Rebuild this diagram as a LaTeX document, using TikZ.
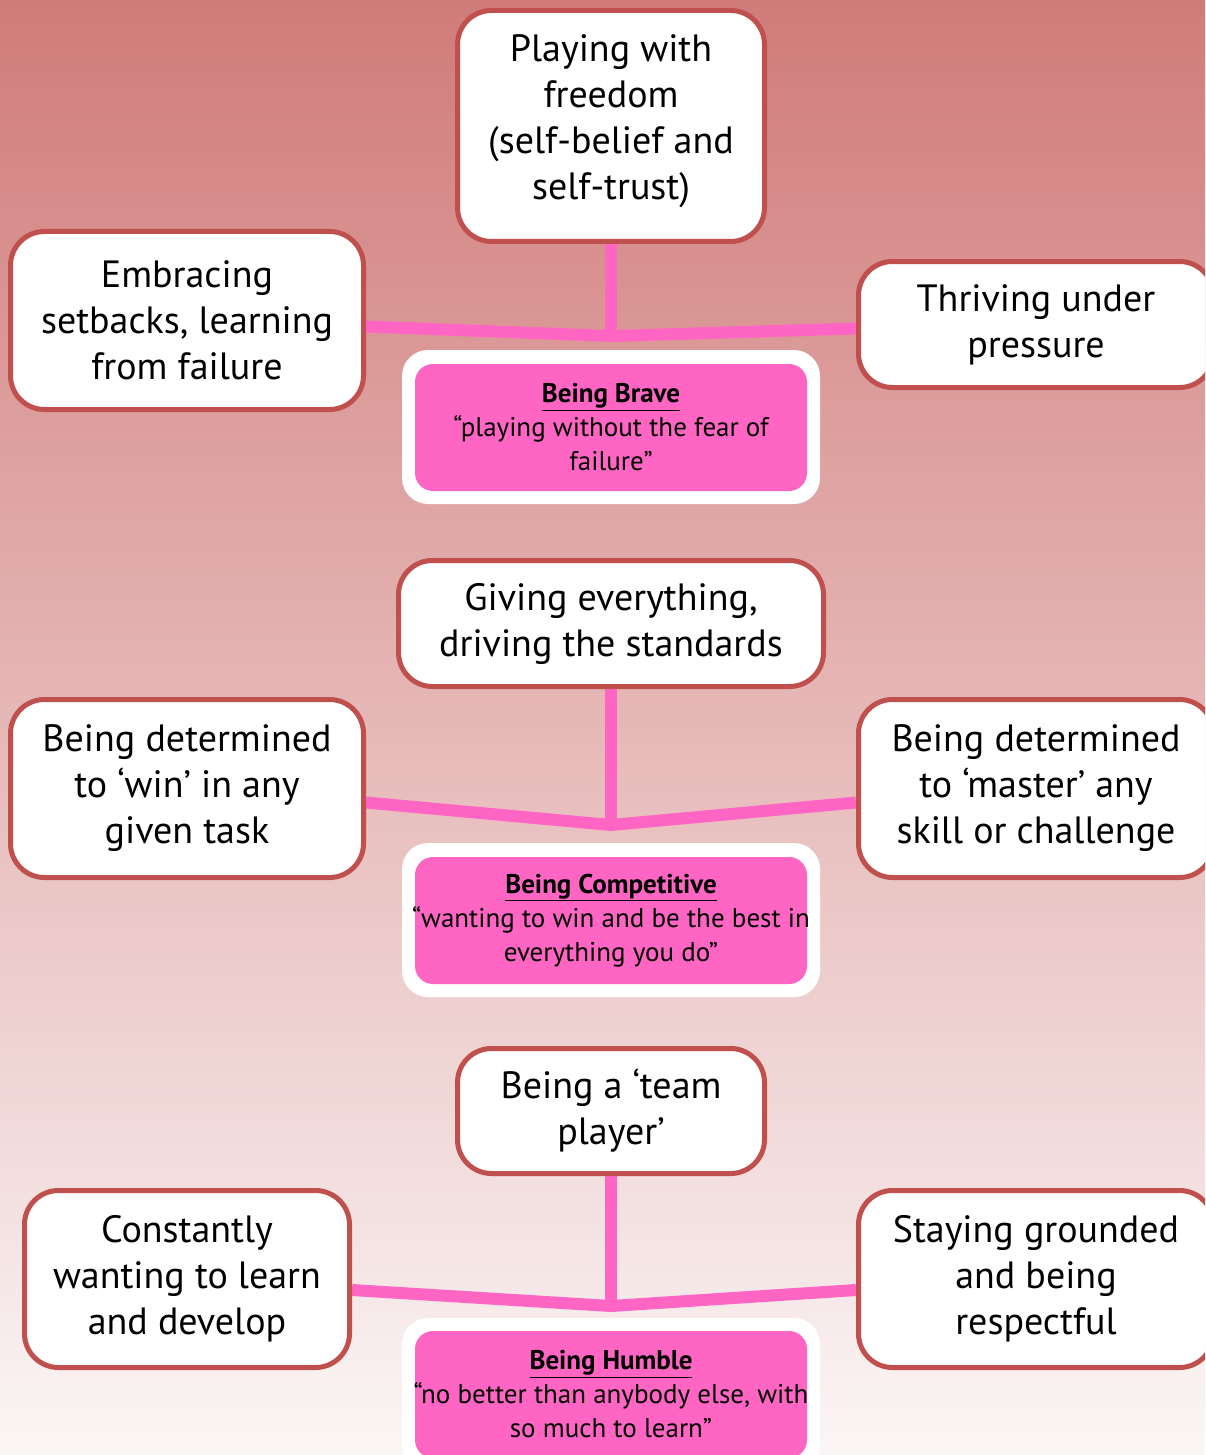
\documentclass[tikz,border=0pt]{standalone}
\usepackage{fontspec}
\setmainfont{PT Sans}
\usetikzlibrary{calc}
\definecolor{bgtop}{RGB}{208,123,121}
\definecolor{bgmid}{RGB}{229,186,186}
\definecolor{bgbot}{RGB}{251,246,246}
\definecolor{boxline}{RGB}{192,80,77}
\definecolor{hotpink}{RGB}{255,102,196}
\pgfdeclarelayer{bg}
\pgfdeclarelayer{lines}
\pgfsetlayers{bg,lines,main}
\tikzset{
  trait/.style={draw=boxline, line width=5pt, fill=white, rounded corners=34pt,
    align=center, inner sep=0pt, font=\fontsize{38}{46}\selectfont},
  valueouter/.style={fill=white, rounded corners=26pt, inner sep=0pt,
    minimum width=418pt, minimum height=154pt},
  valueinner/.style={fill=hotpink, rounded corners=18pt, inner sep=0pt,
    minimum width=392pt, minimum height=127pt},
  valuetext/.style={align=center, inner sep=0pt,
    font=\fontsize{27}{34}\selectfont},
  link/.style={draw=hotpink, line width=12pt}
}
\newcommand{\vtitle}[1]{\textbf{\underline{#1}}}
\begin{document}
\begin{tikzpicture}[x=1pt,y=-1pt]
\clip (0,0) rectangle (1205,1455);
\begin{pgfonlayer}{bg}
\shade[top color=bgtop, middle color=bgmid, bottom color=bgbot] (0,0) rectangle (1205,1455);
\end{pgfonlayer}

% ---------- top group ----------
\node[trait, minimum width=307pt, minimum height=231pt, text depth=18pt] (a1) at (611,126)
  {Playing with\\freedom\\(self-belief and\\self-trust)};
\node[trait, minimum width=353pt, minimum height=178pt] (a2) at (187,320.5)
  {Embracing\\setbacks, learning\\from failure};
\node[trait, minimum width=355pt, minimum height=126pt] (a3) at (1036,324.5)
  {Thriving under\\pressure};
\node[valueouter] (p1o) at (611,427) {};
\node[valueinner] (p1) at (611,427.5) {};
\node[valuetext] (p1t) at (p1)
  {\vtitle{Being Brave}\\“playing without the fear of\\failure”};
\coordinate (j1) at (611,336);
\begin{pgfonlayer}{lines}
\draw[link] ($(a2.east)+(0,6)$) -- (j1) -- ($(a3.west)+(0,4)$);
\draw[link] (a1.south) -- (j1);
\end{pgfonlayer}

% ---------- middle group ----------
\node[trait, minimum width=425pt, minimum height=126pt] (b1) at (611,623.5)
  {Giving everything,\\driving the standards};
\node[trait, minimum width=353pt, minimum height=178pt] (b2) at (187,788.5)
  {Being determined\\to ‘win’ in any\\given task};
\node[trait, minimum width=355pt, minimum height=178pt] (b3) at (1036,788.5)
  {Being determined\\to ‘master’ any\\skill or challenge};
\node[valueouter] (p2o) at (611,920) {};
\node[valueinner] (p2) at (611,920.5) {};
\node[valuetext] (p2t) at (p2)
  {\vtitle{Being Competitive}\\“wanting to win and be the best in\\everything you do”};
\coordinate (j2) at (611,825);
\begin{pgfonlayer}{lines}
\draw[link] ($(b2.east)+(0,14)$) -- (j2) -- ($(b3.west)+(0,14)$);
\draw[link] (b1.south) -- (j2);
\end{pgfonlayer}

% ---------- bottom group ----------
\node[trait, minimum width=307pt, minimum height=125pt] (c1) at (611,1111)
  {Being a ‘team\\player’};
\node[trait, minimum width=325pt, minimum height=177pt] (c2) at (187,1279)
  {Constantly\\wanting to learn\\and develop};
\node[trait, minimum width=355pt, minimum height=177pt] (c3) at (1036,1279)
  {Staying grounded\\and being\\respectful};
\node[valueouter] (p3o) at (611,1395) {};
\node[valueinner] (p3) at (611,1394.5) {};
\node[valuetext] (p3t) at (611,1394.5)
  {\vtitle{Being Humble}\\“no better than anybody else, with\\so much to learn”};
\coordinate (j3) at (611,1306);
\begin{pgfonlayer}{lines}
\draw[link] ($(c2.east)+(0,11)$) -- (j3) -- ($(c3.west)+(0,11)$);
\draw[link] (c1.south) -- (j3);
\end{pgfonlayer}
\end{tikzpicture}
\end{document}
